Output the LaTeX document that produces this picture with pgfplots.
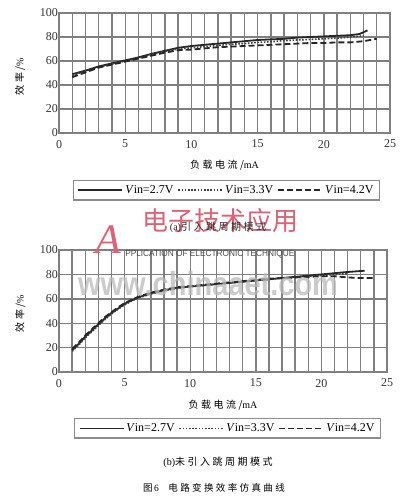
\documentclass[border=0pt]{standalone}
\usepackage{pgfplots}
\pgfplotsset{compat=1.18}
\usepackage{fontspec}
\setmainfont{Liberation Serif}
\setsansfont{Liberation Sans}
\newfontfamily\cjk{Noto Sans CJK SC}
\newfontfamily\cjkw[LetterSpace=25]{Noto Sans CJK SC}
\definecolor{wmred}{RGB}{226,96,116}
\begin{document}
\begin{tikzpicture}
\useasboundingbox (0pt,0pt) rectangle (413pt,-502pt);
\pgfplotsset{
  myax/.style={
    scale only axis, width=331pt, height=120pt,
    xmin=0, xmax=25, ymin=0, ymax=100,
    xtick={0,5,...,25}, ytick={0,20,...,100},
    minor x tick num=4,
    xmajorgrids, xminorgrids, ymajorgrids,
    grid style={draw=black!50, line width=1.4pt},
    minor grid style={draw=black!50, line width=1.4pt},
    axis line style={draw=black!50, line width=1.4pt},
    major tick length=0pt, minor tick length=0pt,
    tick label style={font=\fontsize{12}{13}\selectfont, text=black!80},
    yticklabel style={inner xsep=1pt},
    xticklabel style={yshift=-3.5pt},
    /pgf/number format/assume math mode=true,
    xlabel={\cjkw\fontsize{10}{12}\selectfont 负载电流/\rmfamily mA},
    ylabel={\cjkw\fontsize{10}{12}\selectfont 效率/\rmfamily\%},
    legend columns=3,
    legend cell align=left,
    legend style={draw=black!45, line width=1.4pt, fill=white,
      font=\fontsize{12}{13}\selectfont, inner xsep=4pt, inner ysep=3pt,
      /tikz/every even column/.append style={column sep=2pt}},
    legend image code/.code={\draw[##1] plot coordinates {(0pt,0pt) (22pt,0pt) (44pt,0pt)};},
    s1/.style={black!85, line width=1.8pt},
    s2/.style={black!75, line width=1.6pt, dash pattern=on 1.6pt off 1.6pt},
    s3/.style={black!85, line width=1.8pt, dash pattern=on 6pt off 3pt},
  }
}
% ---------- (a) ----------
\begin{axis}[myax, at={(59pt,-133pt)}, anchor=south west,
  xlabel style={at={(axis description cs:0.5,-0.265)}, anchor=center},
  ylabel style={at={(axis description cs:-0.118,0.47)}, anchor=center},
  legend style={at={(0.506,-0.39)}, anchor=north}]
\addplot[s1] coordinates {(1,49)(2,52)(3,55.5)(4,58)(5,60.5)(6,63)(7,66)(8,68.5)(9,71)(10,72.5)(11,73.5)(12,74.5)(13,75.5)(14,76.5)(15,77.5)(16,78)(17,78.5)(18,79.5)(19,80)(20,80.5)(21,81)(22,81.5)(22.7,82.5)(23.3,85.5)};
\addplot[s2] coordinates {(1,48)(2,51.5)(3,55)(4,57.5)(5,60)(6,62.5)(7,65.5)(8,68)(9,70)(10,71)(11,72)(12,73)(13,74)(14,74.5)(15,75.5)(16,76)(17,77)(18,77.5)(19,78)(20,78.5)(21,79)(22,80)(23,81)};
\addplot[s3] coordinates {(1,46.5)(2,50.5)(3,54.5)(4,57)(5,59.5)(6,62)(7,64.5)(8,67)(9,69)(10,69.5)(11,70.5)(12,71.5)(13,72)(14,72.5)(15,73)(16,73.5)(17,74)(18,74.5)(19,75)(20,75)(21,75.5)(22,75.5)(23,76.5)(24,78.5)};
\legend{\textit{V}in=2.7V, \textit{V}in=3.3V, \textit{V}in=4.2V}
\end{axis}
% ---------- (b) ----------
\begin{axis}[myax, at={(59pt,-372pt)}, anchor=south west, width=328pt, height=122pt,
  xlabel style={at={(axis description cs:0.5,-0.27)}, anchor=center},
  ylabel style={at={(axis description cs:-0.118,0.48)}, anchor=center},
  legend style={at={(0.514,-0.377)}, anchor=north}]
\addplot[s1] coordinates {(1,18)(1.5,23)(2,29)(2.5,34)(3,39)(3.5,44)(4,48.5)(4.5,52)(5,56)(5.5,58.5)(6,61)(7,64.5)(8,67)(9,69)(10,70)(11,71)(12,72)(13,73)(14,74)(15,75)(16,76)(17,77)(18,78)(19,79)(20,80)(21,81)(22,82)(23.3,83)};
\addplot[s2] coordinates {(1,17)(1.5,22)(2,28)(2.5,33)(3,38)(3.5,43)(4,47.5)(4.5,51.5)(5,55)(5.5,58)(6,60.5)(7,64)(8,66.5)(9,68.5)(10,70)(11,71)(12,72)(13,73)(14,74)(15,75)(16,76)(17,77)(18,77.5)(19,78.5)(20,79)(21,80)(22,80.5)};
\addplot[s3] coordinates {(1,19)(1.5,24)(2,30)(2.5,35)(3,40)(3.5,45)(4,49)(4.5,53)(5,56.5)(5.5,59)(6,61.5)(7,65)(8,67.5)(9,69.5)(10,70.5)(11,71.5)(12,72.5)(13,73.5)(14,74.5)(15,75.5)(16,76.5)(17,77)(18,77.5)(19,78)(20,78.5)(21,78.5)(22,77.5)(23,77)(24,77)};
\legend{\textit{V}in=2.7V, \textit{V}in=3.3V, \textit{V}in=4.2V}
\end{axis}
% ---------- watermark ----------
\node[text=wmred, font=\cjk\fontsize{26}{26}\selectfont] at (220pt,-221pt) {电子技术应用};
\node[text=wmred, font=\itshape\fontsize{42}{42}\selectfont] at (108pt,-240pt) {A};
\node[text=black!70, font=\sffamily\fontsize{9}{10}\selectfont, xscale=0.92, anchor=west] at (122pt,-254pt) {PPLICATION OF ELECTRONIC TECHNIQUE};
\node[text=gray!55, opacity=0.75, font=\sffamily\bfseries\fontsize{29}{30}\selectfont, yscale=1.15] at (208pt,-284pt) {www.chinaaet.com};
% ---------- captions ----------
\node[font=\cjkw\fontsize{10}{12}\selectfont, text=black!85] at (218pt,-227pt) {\rmfamily(a)\cjkw 引入跳周期模式};
\node[font=\cjkw\fontsize{10}{12}\selectfont] at (218pt,-462pt) {\rmfamily(b)\cjkw 未引入跳周期模式};
\node[font=\cjkw\fontsize{9.5}{12}\selectfont] at (214pt,-488pt) {图\,\rmfamily 6\quad\cjkw 电路变换效率仿真曲线};
\end{tikzpicture}
\end{document}
